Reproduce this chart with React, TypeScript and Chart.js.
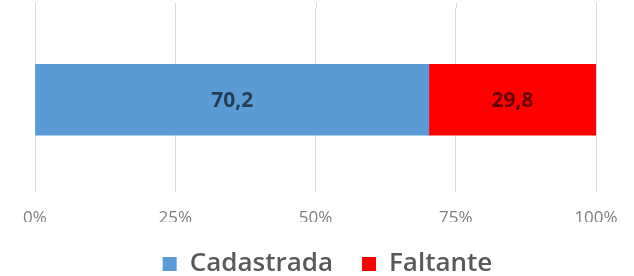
import React, { useEffect, useRef } from "react";
import { Chart, registerables } from "chart.js";

Chart.register(...registerables);

const categories = ["Situação"];
const seriesNames = ["Cadastrada", "Faltante"];
const cadastrada = [70.2];
const faltante = [29.8];
const seriesColors = ["#5B9BD5", "#FF0000"];
const tickValues = [0, 25, 50, 75, 100];

const FONT = "'Open Sans', 'Noto Sans', sans-serif";
const GRID = "#D9D9D9";

const labelPlugin = {
  id: "barLabels",
  afterDatasetsDraw(chart: any) {
    const ctx = chart.ctx;
    ctx.save();
    ctx.font = `bold 21px ${FONT}`;
    ctx.fillStyle = "rgba(0,0,0,0.6)";
    ctx.textAlign = "center";
    ctx.textBaseline = "middle";
    chart.data.datasets.forEach((ds: any, i: number) => {
      const meta = chart.getDatasetMeta(i);
      meta.data.forEach((bar: any, j: number) => {
        const v = ds.data[j];
        const { x, y, base } = bar.getProps(["x", "y", "base"], true);
        const cx = (x + base) / 2;
        ctx.fillText(v.toFixed(1).replace(".", ","), cx, y + 1);
      });
    });
    ctx.restore();
  },
};

// extend vertical gridlines slightly above the plot area, as in the reference
const gridExtendPlugin = {
  id: "gridExtend",
  beforeDatasetsDraw(chart: any) {
    const ctx = chart.ctx;
    const scale = chart.scales.x;
    ctx.save();
    ctx.strokeStyle = GRID;
    ctx.lineWidth = 1;
    tickValues.forEach((v) => {
      const px = Math.round(scale.getPixelForValue(v)) + 0.5;
      ctx.beginPath();
      ctx.moveTo(px, 3);
      ctx.lineTo(px, chart.chartArea.top);
      ctx.stroke();
    });
    ctx.restore();
  },
};

// nudge the legend row to the right, matching the reference
const legendShiftPlugin = {
  id: "legendShift",
  afterLayout(chart: any) {
    if (chart.legend) {
      chart.legend.left += 12;
      chart.legend.right += 12;
    }
  },
};

export default function App() {
  const ref = useRef<HTMLCanvasElement | null>(null);
  useEffect(() => {
    if (!ref.current) return;
    const chart = new Chart(ref.current, {
      type: "bar",
      data: {
        labels: categories,
        datasets: [
          { label: seriesNames[0], data: cadastrada, backgroundColor: seriesColors[0], barThickness: 71 },
          { label: seriesNames[1], data: faltante, backgroundColor: seriesColors[1], barThickness: 71 },
        ],
      },
      options: {
        indexAxis: "y",
        animation: false,
        responsive: true,
        maintainAspectRatio: false,
        layout: { padding: { top: 8, left: 35, right: 38, bottom: -11 } },
        scales: {
          x: {
            stacked: true,
            min: 0,
            max: 100,
            afterBuildTicks: (axis: any) => {
              axis.ticks = tickValues.map((v) => ({ value: v }));
            },
            afterFit: (axis: any) => {
              axis.height = 30.5;
            },
            ticks: {
              callback: (v: any) => v + "%",
              color: "#808080",
              font: { family: FONT, size: 17, lineHeight: 1.5 },
              padding: 14,
              maxRotation: 0,
            },
            grid: { color: GRID, drawTicks: false },
            border: { display: false },
          },
          y: {
            stacked: true,
            display: false,
          },
        },
        plugins: {
          legend: {
            position: "bottom",
            labels: {
              color: "#595959",
              font: { family: FONT, size: 26, weight: "600" },
              boxWidth: 14,
              boxHeight: 14,
              padding: 29,
            },
          },
          tooltip: { enabled: false },
        },
      },
      plugins: [labelPlugin, gridExtendPlugin, legendShiftPlugin],
    });
    return () => chart.destroy();
  }, []);
  return (
    <div style={{ position: "fixed", left: 0, top: 0, width: 634, height: 276, background: "#fff" }}>
      <canvas ref={ref} />
    </div>
  );
}
